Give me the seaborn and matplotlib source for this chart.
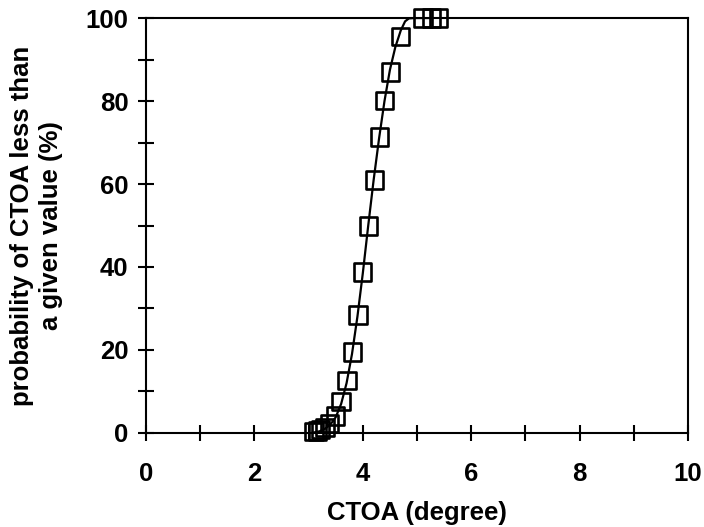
import matplotlib
matplotlib.use("Agg")
import matplotlib.pyplot as plt
import seaborn as sns
import pandas as pd
from matplotlib.ticker import MultipleLocator

# measured data (squares)
ctoa = [3.10, 3.16, 3.22, 3.30, 3.38, 3.50, 3.60, 3.71, 3.81, 3.91,
        4.00, 4.10, 4.21, 4.31, 4.40, 4.51, 4.70, 5.11, 5.27, 5.40]
prob = [0.3, 0.5, 0.9, 1.4, 2.2, 4.1, 7.6, 12.7, 19.5, 28.4,
        38.8, 49.9, 61.0, 71.3, 80.1, 87.0, 95.5, 100.0, 100.0, 100.0]

# fitted curve
fit_x = [3.05, 3.20, 3.30, 3.40, 3.50, 3.60, 3.70, 3.80, 3.90, 4.00,
         4.10, 4.20, 4.30, 4.40, 4.50, 4.60, 4.70, 4.78, 4.85, 4.95, 5.30]
fit_y = [0.0, 0.4, 1.0, 2.0, 3.8, 7.0, 12.0, 19.0, 28.0, 38.5,
         50.0, 61.0, 71.0, 80.0, 87.5, 93.0, 97.0, 99.2, 99.9, 100.0, 100.0]

x_ticks = [0, 2, 4, 6, 8, 10]
y_ticks = [0, 20, 40, 60, 80, 100]

sns.set_style("white")
plt.rcParams['font.family'] = ['Liberation Sans', 'DejaVu Sans']
plt.rcParams['font.weight'] = 'bold'
plt.rcParams['text.color'] = 'black'
plt.rcParams['axes.labelcolor'] = 'black'
plt.rcParams['xtick.color'] = 'black'
plt.rcParams['ytick.color'] = 'black'

FS = 18.5

fig = plt.figure(figsize=(7.04, 5.27), dpi=100)
ax = fig.add_axes([0.2074, 0.1784, 0.9773 - 0.2074, 0.9658 - 0.1784])

pts = pd.DataFrame({"x": ctoa, "y": prob})
fit = pd.DataFrame({"x": fit_x, "y": fit_y})

sns.lineplot(data=fit, x="x", y="y", ax=ax, color="black", linewidth=1.6,
             estimator=None, sort=False)
sns.scatterplot(data=pts, x="x", y="y", ax=ax, marker="s", s=155,
                facecolor="none", edgecolor="black", linewidth=1.9, zorder=3,
                clip_on=False)

ax.set_xlim(0, 10)
ax.set_ylim(0, 100)
ax.set_xticks(x_ticks)
ax.set_yticks(y_ticks)
ax.xaxis.set_minor_locator(MultipleLocator(1))
ax.yaxis.set_minor_locator(MultipleLocator(10))
ax.tick_params(which="both", direction="inout", length=11.5, width=1.5,
               color="black", bottom=True, left=True, top=False, right=False,
               labelsize=FS, labelcolor="black")
ax.tick_params(axis="x", pad=15)
ax.tick_params(axis="y", pad=7)
for lab in ax.get_xticklabels() + ax.get_yticklabels():
    lab.set_fontweight("bold")

for sp in ax.spines.values():
    sp.set_visible(True)
    sp.set_color("black")
    sp.set_linewidth(1.5)

ax.set_xlabel("CTOA (degree)", fontsize=FS, fontweight="bold", labelpad=11,
              color="black")
ax.set_ylabel("probability of CTOA less than\na given value (%)", fontsize=FS,
              fontweight="bold", labelpad=16, color="black", linespacing=1.25)

fig.savefig("out.png", dpi=100)
